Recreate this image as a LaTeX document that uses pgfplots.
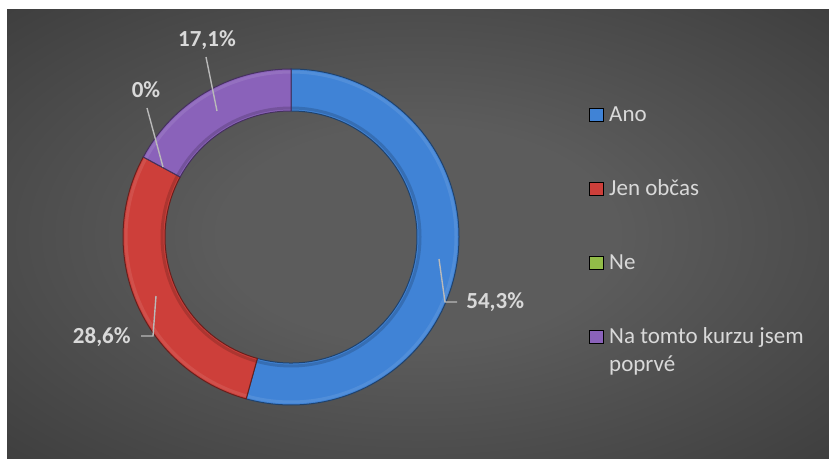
\documentclass[border=0pt]{standalone}
\usepackage{pgfplots}
\pgfplotsset{compat=1.18}
\usepackage{pgfplotstable}
\usepackage{fontspec}
\setmainfont{Carlito}

\definecolor{cAno}{RGB}{64,131,214}
\definecolor{cJen}{RGB}{205,63,58}
\definecolor{cNe}{RGB}{146,188,72}
\definecolor{cPrv}{RGB}{138,98,186}
\definecolor{bgin}{RGB}{92,92,92}
\definecolor{bgout}{RGB}{30,30,30}
\definecolor{txt}{RGB}{217,217,217}
\definecolor{lead}{RGB}{185,185,185}

\pgfdeclareradialshading{bgshade}{\pgfpoint{0bp}{0bp}}{color(0bp)=(bgin); color(12bp)=(bgin); color(62bp)=(bgout); color(100bp)=(bgout)}

% share of answers in percent, clockwise from the top
\pgfplotstableread[col sep=comma]{
name,value
Ano,54.3
Jen občas,28.6
Ne,0
Na tomto kurzu jsem poprvé,17.1
}\donut

\pgfplotstablegetelem{0}{value}\of\donut \let\vA\pgfplotsretval
\pgfplotstablegetelem{1}{value}\of\donut \let\vB\pgfplotsretval
\pgfplotstablegetelem{2}{value}\of\donut \let\vC\pgfplotsretval
\pgfplotstablegetelem{3}{value}\of\donut \let\vD\pgfplotsretval
\pgfmathsetmacro\aA{90-3.6*\vA}
\pgfmathsetmacro\aB{\aA-3.6*\vB}
\pgfmathsetmacro\aC{\aB-3.6*\vC}
\pgfmathsetmacro\aD{\aC-3.6*\vD}

\newcommand\pct[1]{\pgfmathprintnumber[use comma,fixed,precision=1,assume math mode=true]{#1}\%}
% one ring segment: colour, start angle, end angle
\newcommand\seg[3]{%
  \fill[#1] (#2:84pt) arc[start angle=#2,end angle=#3,radius=84pt]
    -- (#3:63pt) arc[start angle=#3,end angle=#2,radius=63pt] -- cycle;
  \draw[#1!70!white,opacity=0.3,line width=1.5pt] (#2:82.5pt) arc[start angle=#2,end angle=#3,radius=82.5pt];
  \draw[#1!65!black,opacity=0.45,line width=1.5pt] (#2:64.5pt) arc[start angle=#2,end angle=#3,radius=64.5pt];
  \draw[#1!50!black,line width=0.5pt] (#2:84pt) arc[start angle=#2,end angle=#3,radius=84pt]
    -- (#3:63pt) arc[start angle=#3,end angle=#2,radius=63pt] -- cycle;
}

\begin{document}
\begin{tikzpicture}
\begin{axis}[
  x=0.5pt, y=0.5pt,
  xmin=0, xmax=829, ymin=0, ymax=459,
  hide axis, clip=false,
  legend cell align=left,
  legend image code/.code={\fill[#1] (0pt,0pt) rectangle (7pt,6.5pt);},
  legend style={at={(axis cs:589,356)}, anchor=north west, draw=none, fill=none,
    inner sep=0pt, row sep=25pt, column sep=2.5pt,
    font=\fontsize{11.5}{15}\selectfont, text=txt,
    nodes={inner sep=0pt, anchor=base west, text height=9pt, text depth=3pt}},
]
\path (axis cs:0,0) rectangle (axis cs:829,459);
\fill[shading=bgshade] (axis cs:7,0) rectangle (axis cs:829,449);

\begin{scope}[shift={(axis cs:291,222)}]
  \seg{cAno}{90}{\aA}
  \seg{cJen}{\aA}{\aB}
  \seg{cPrv}{\aC}{\aD}
\end{scope}

% data labels with leader lines
\draw[lead,line width=0.7pt] (axis cs:439,200) -- (axis cs:445,157) -- (axis cs:457,157);
\draw[lead,line width=0.7pt] (axis cs:141,123) -- (axis cs:153,123) -- (axis cs:156,163);
\draw[lead,line width=0.7pt] (axis cs:147,351) -- (axis cs:163,292);
\draw[lead,line width=0.7pt] (axis cs:206,402) -- (axis cs:217,348);
\begin{scope}[every node/.style={text=txt,font=\fontsize{11.5}{14}\selectfont\bfseries,inner sep=0pt}]
  \node[anchor=base west] at (axis cs:466,150) {\pct{\vA}};
  \node[anchor=base east] at (axis cs:131,115) {\pct{\vB}};
  \node[anchor=base] at (axis cs:146,361) {\pct{\vC}};
  \node[anchor=base] at (axis cs:207,412) {\pct{\vD}};
\end{scope}

\addlegendimage{fill=cAno}
\addlegendentry{Ano}
\addlegendimage{fill=cJen}
\addlegendentry{Jen občas}
\addlegendimage{fill=cNe}
\addlegendentry{Ne}
\addlegendimage{fill=cPrv}
\addlegendentry{\begin{tabular}[t]{@{}l@{}}Na tomto kurzu jsem\\[-1pt]poprvé\end{tabular}}
\end{axis}
\end{tikzpicture}
\end{document}
